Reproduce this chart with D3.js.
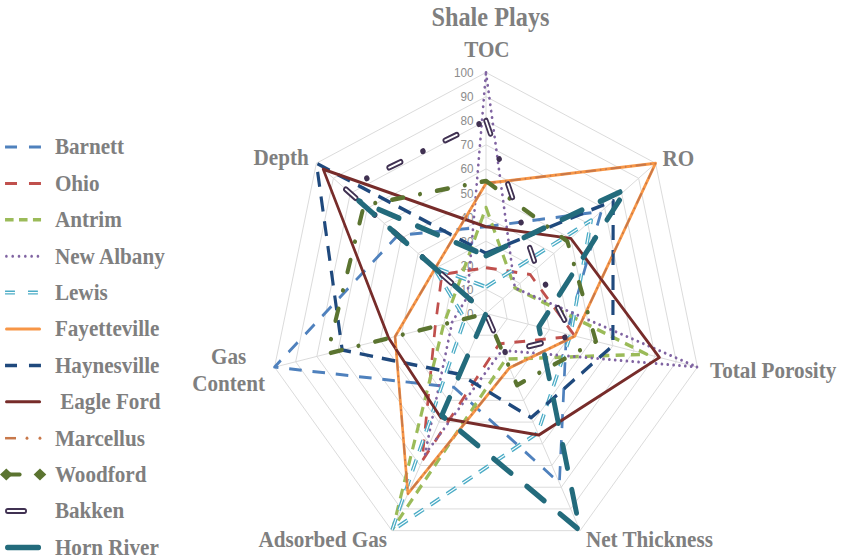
<!DOCTYPE html>
<html>
<head>
<meta charset="utf-8">
<script src="https://cdnjs.cloudflare.com/ajax/libs/d3/7.8.5/d3.min.js"></script>
<style>
body { margin: 0; background: #fff; }
text { fill: #7f7f7f; }
.lbl { font-family: "Liberation Serif", "Times New Roman", serif; font-weight: bold; font-size: 23.5px; }
.tick { font-family: "Liberation Sans", Arial, sans-serif; font-size: 13px; fill: #8c8c8c; }
</style>
</head>
<body>
<svg id="chart" width="843" height="557"></svg>
<script>
// values, 0-100 per axis
var axes = ["TOC", "RO", "Total Porosity", "Net Thickness", "Adsorbed Gas", "Gas Content", "Depth"];
var ticks = [0, 10, 20, 30, 40, 50, 60, 70, 80, 90, 100];

var barnett      = [36, 68, 38, 78, 34, 100, 52];
var ohio         = [19, 26, 42, 14, 68, 24, 26];
var antrim       = [44, 17, 76, 21, 99, 20, 17];
var newAlbany    = [100, 17, 100, 17, 65, 16, 11];
var lewis        = [11, 62, 40, 55, 100, 10, 31];
var fayetteville = [54, 100, 42, 25, 83, 43, 30];
var haynesville  = [25, 75, 60, 48, 28, 68, 100];
var eagleFord    = [36, 50, 82, 56, 48, 46, 96];
var marcellus    = [54, 100, 42, 25, 83, 43, 30];
var woodford     = [55, 48, 52, 33, 0, 75, 72];
var bakken       = [80, 30, 41, 18, 0, 0, 83];
var hornRiver    = [24, 83, 25, 100, 47, 0, 75];

var seriesNames = ["Barnett", "Ohio", "Antrim", "New Albany", "Lewis", "Fayetteville",
    "Haynesville", " Eagle Ford", "Marcellus", "Woodford", "Bakken", "Horn River"];
var seriesValues = [barnett, ohio, antrim, newAlbany, lewis, fayetteville,
    haynesville, eagleFord, marcellus, woodford, bakken, hornRiver];
var seriesColors = ["#4f81bd", "#c0504d", "#9bbb59", "#8064a2", "#4bacc6", "#f79646",
    "#1f497d", "#772c2a", "#c8784a", "#5b7430", "#403152", "#236b7c"];

// line look per series: width, dash, cap, white inner line
var styles = [
    {w: 3,   dash: "14,12", cap: "butt"},
    {w: 3,   dash: "12,11", cap: "butt"},
    {w: 3.5, dash: "10,7",  cap: "butt"},
    {w: 3,   dash: "0.01,6.5", cap: "round"},
    {w: 4,   dash: "12,9",  cap: "butt", inner: 1.2, innerDash: "12,9"},
    {w: 3,   dash: null,    cap: "round"},
    {w: 3.5, dash: "15,10", cap: "butt"},
    {w: 3,   dash: null,    cap: "round"},
    {w: 2,   dash: "10,6,0.01,6,0.01,6", cap: "round"},
    {w: 4.5, dash: "12.5,19,0.01,19", cap: "round"},
    {w: 6,   dash: "14,27,0.01,27", cap: "round", inner: 2, innerDash: "14,54.01"},
    {w: 5.5, dash: "24,22", cap: "round"}
];

var svg = d3.select("#chart");
// the picture is squeezed sideways, so draw in a 0.9 wide frame
var root = svg.append("g").attr("transform", "scale(0.9,1)");

var cx = 540, cy = 313.5;
var r = d3.scaleLinear().domain([0, 100]).range([0, 241]);
var angle = d3.scaleLinear().domain([0, axes.length]).range([0, 2 * Math.PI]);

var plot = root.append("g").attr("transform", "translate(" + cx + "," + cy + ")");

var radial = d3.lineRadial()
    .angle(function (d, i) { return angle(i); })
    .radius(function (d) { return r(d); })
    .curve(d3.curveLinearClosed);

// grid rings
plot.selectAll(".ring")
    .data(ticks.slice(1))
    .enter().append("path")
    .attr("class", "ring")
    .attr("d", function (t) { return radial(axes.map(function () { return t; })); })
    .attr("fill", "none")
    .attr("stroke", "#d9d9d9")
    .attr("stroke-width", 1);

// spokes
plot.selectAll(".spoke")
    .data(axes)
    .enter().append("line")
    .attr("class", "spoke")
    .attr("x1", 0).attr("y1", 0)
    .attr("x2", function (d, i) { return r(100) * Math.sin(angle(i)); })
    .attr("y2", function (d, i) { return -r(100) * Math.cos(angle(i)); })
    .attr("stroke", "#d9d9d9")
    .attr("stroke-width", 1);

// tick labels up the TOC axis
plot.selectAll(".tick")
    .data(ticks)
    .enter().append("text")
    .attr("class", "tick")
    .attr("x", -14)
    .attr("y", function (d) { return -r(d); })
    .attr("dy", "0.35em")
    .style("text-anchor", "end")
    .text(function (d) { return d; });

// series
seriesValues.forEach(function (vals, k) {
    var st = styles[k];
    plot.append("path")
        .attr("d", radial(vals))
        .attr("fill", "none")
        .attr("stroke", seriesColors[k])
        .attr("stroke-width", st.w)
        .attr("stroke-dasharray", st.dash)
        .attr("stroke-linecap", st.cap)
        .attr("stroke-linejoin", "round");
    if (st.inner) {
        plot.append("path")
            .attr("d", radial(vals))
            .attr("fill", "none")
            .attr("stroke", "#fff")
            .attr("stroke-width", st.inner)
            .attr("stroke-dasharray", st.innerDash)
            .attr("stroke-linecap", st.cap)
            .attr("stroke-linejoin", "round");
    }
});

// title and axis labels
root.append("text").attr("class", "lbl").attr("x", 545).attr("y", 26)
    .style("text-anchor", "middle").style("font-size", "27px").text("Shale Plays");

var axisLabels = [
    {t: "TOC", x: 541, y: 57, a: "middle"},
    {t: "RO", x: 736, y: 166, a: "start"},
    {t: "Total Porosity", x: 789, y: 378, a: "start"},
    {t: "Net Thickness", x: 651, y: 547, a: "start"},
    {t: "Adsorbed Gas", x: 430, y: 547, a: "end"},
    {t: "Gas", x: 254, y: 364, a: "middle"},
    {t: "Content", x: 254, y: 391, a: "middle"},
    {t: "Depth", x: 343, y: 165, a: "end"}
];
root.selectAll(".axlbl")
    .data(axisLabels)
    .enter().append("text")
    .attr("class", "lbl")
    .attr("x", function (d) { return d.x; })
    .attr("y", function (d) { return d.y; })
    .style("text-anchor", function (d) { return d.a; })
    .text(function (d) { return d.t; });

// legend
var legendDash = ["13.3,13.3", "13.3,13.3", "9.5,6", "0.01,7", "11,14.5", null,
    "13.3,13.3", null, null, null, null, null];
var lg = root.append("g");
seriesNames.forEach(function (name, k) {
    var y = 147 + k * 36.4;
    var st = styles[k];
    var c = seriesColors[k];
    if (k === 8) {
        lg.append("line").attr("x1", 5.6).attr("x2", 17.8).attr("y1", y).attr("y2", y)
            .attr("stroke", c).attr("stroke-width", 2.5);
        [30, 44.4].forEach(function (x) {
            lg.append("circle").attr("cx", x).attr("cy", y).attr("r", 1.6).attr("fill", c);
        });
    } else if (k === 9) {
        lg.append("line").attr("x1", 7).attr("x2", 22).attr("y1", y).attr("y2", y)
            .attr("stroke", c).attr("stroke-width", 4).attr("stroke-linecap", "round");
        [7, 44.4].forEach(function (x) {
            lg.append("path")
                .attr("d", "M" + (x - 7) + "," + y + "L" + x + "," + (y - 6) + "L" + (x + 7) + "," + y + "L" + x + "," + (y + 6) + "Z")
                .attr("fill", c);
        });
    } else if (k === 10) {
        lg.append("line").attr("x1", 8.6).attr("x2", 27).attr("y1", y).attr("y2", y)
            .attr("stroke", c).attr("stroke-width", 6).attr("stroke-linecap", "round");
        lg.append("line").attr("x1", 8.6).attr("x2", 27).attr("y1", y).attr("y2", y)
            .attr("stroke", "#fff").attr("stroke-width", 2).attr("stroke-linecap", "round");
    } else {
        var round = st.cap === "round";
        lg.append("line")
            .attr("x1", round ? 5.6 + st.w / 2 : 5.6)
            .attr("x2", round ? 45.6 - st.w / 2 : 45.6)
            .attr("y1", y).attr("y2", y)
            .attr("stroke", c).attr("stroke-width", st.w)
            .attr("stroke-dasharray", legendDash[k])
            .attr("stroke-linecap", st.cap);
        if (st.inner) {
            lg.append("line").attr("x1", 5.6).attr("x2", 45.6).attr("y1", y).attr("y2", y)
                .attr("stroke", "#fff").attr("stroke-width", st.inner)
                .attr("stroke-dasharray", legendDash[k]);
        }
    }
    lg.append("text").attr("class", "lbl")
        .attr("x", 61).attr("y", y + 7.5)
        .attr("xml:space", "preserve")
        .style("white-space", "pre")
        .text(name);
});
</script>
</body>
</html>
